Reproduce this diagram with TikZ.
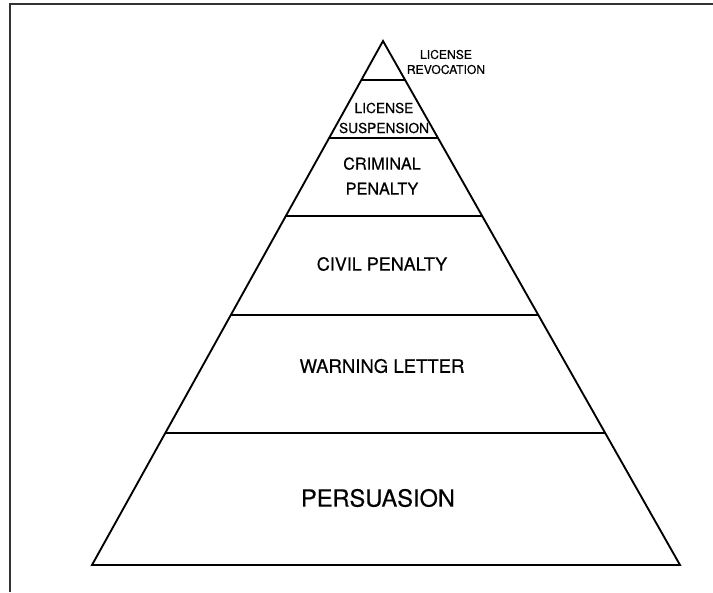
\documentclass[tikz,border=0pt]{standalone}
\usepackage{fontspec}
\setmainfont{TeX Gyre Heros}[FakeBold=0.4]
\usepackage{tikz}
\usetikzlibrary{calc}

\tikzset{
  level/.style={draw=black, line width=1.4pt},
  tier/.style={inner sep=0pt, align=center, text=black}
}

\begin{document}
\begin{tikzpicture}[x=0.75pt, y=-0.75pt]
\useasboundingbox (0,0) rectangle (713,592);

% 边框
\draw[line width=1.6pt, black!80] (10,592) -- (10,4) -- (713,4);

% 定义顶点
\coordinate (apex) at (383,41);
\coordinate (bl) at (92,565);
\coordinate (br) at (680,565);

% 金字塔
\draw[level, line join=miter] (apex) -- (bl) -- (br) -- cycle;
\foreach \t/\n in {0.0744/a, 0.185/b, 0.334/c, 0.523/d, 0.748/e} {
  \coordinate (l\n) at ($(apex)!\t!(bl)$);
  \coordinate (r\n) at ($(apex)!\t!(br)$);
  \draw[level] (l\n) -- (r\n);
}

% 定义节点
\node[tier, font=\fontsize{9.1}{11.25}\selectfont] (revoke) at (446,62) {LICENSE\\REVOCATION};
\node[tier, font=\fontsize{10.3}{15}\selectfont] (suspend) at (384,118) {LICENSE\\SUSPENSION};
\node[tier, font=\fontsize{12.2}{18.75}\selectfont] (criminal) at (382,176) {CRIMINAL\\PENALTY};
\node[tier, font=\fontsize{13.5}{16}\selectfont] (civil) at (382,264) {CIVIL PENALTY};
\node[tier, font=\fontsize{13.9}{16}\selectfont] (warning) at (382,366) {WARNING LETTER};
\node[tier, font=\fontsize{17.7}{20}\selectfont] (persuade) at (378,498) {PERSUASION};

\end{tikzpicture}
\end{document}
